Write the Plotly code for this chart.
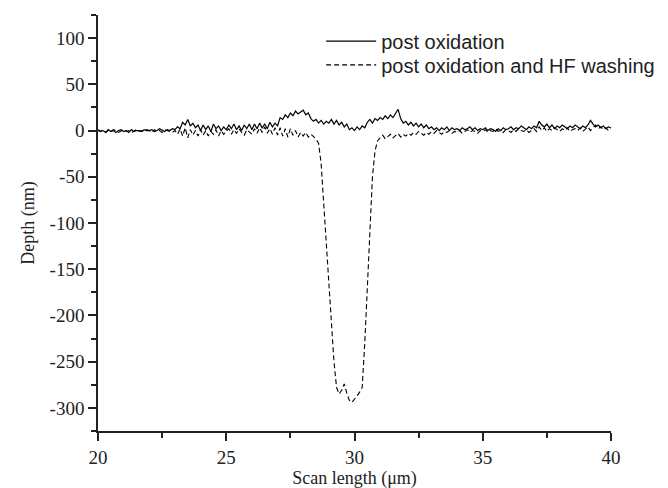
import plotly.graph_objects as go

scan_um = [
    20.0, 20.1, 20.2, 20.3, 20.4, 20.5, 20.6, 20.7, 20.8, 20.9,
    21.0, 21.1, 21.2, 21.3, 21.4, 21.5, 21.6, 21.7, 21.8, 21.9,
    22.0, 22.1, 22.2, 22.3, 22.4, 22.5, 22.6, 22.7, 22.8, 22.9,
    23.0, 23.1, 23.2, 23.3, 23.4, 23.5, 23.6, 23.7, 23.8, 23.9,
    24.0, 24.1, 24.2, 24.3, 24.4, 24.5, 24.6, 24.7, 24.8, 24.9,
    25.0, 25.1, 25.2, 25.3, 25.4, 25.5, 25.6, 25.7, 25.8, 25.9,
    26.0, 26.1, 26.2, 26.3, 26.4, 26.5, 26.6, 26.7, 26.8, 26.9,
    27.0, 27.1, 27.2, 27.3, 27.4, 27.5, 27.6, 27.7, 27.8, 27.9,
    28.0, 28.1, 28.2, 28.3, 28.4, 28.5, 28.6, 28.7, 28.8, 28.9,
    29.0, 29.1, 29.2, 29.3, 29.4, 29.5, 29.6, 29.7, 29.8, 29.9,
    30.0, 30.1, 30.2, 30.3, 30.4, 30.5, 30.6, 30.7, 30.8, 30.9,
    31.0, 31.1, 31.2, 31.3, 31.4, 31.5, 31.6, 31.7, 31.8, 31.9,
    32.0, 32.1, 32.2, 32.3, 32.4, 32.5, 32.6, 32.7, 32.8, 32.9,
    33.0, 33.1, 33.2, 33.3, 33.4, 33.5, 33.6, 33.7, 33.8, 33.9,
    34.0, 34.1, 34.2, 34.3, 34.4, 34.5, 34.6, 34.7, 34.8, 34.9,
    35.0, 35.1, 35.2, 35.3, 35.4, 35.5, 35.6, 35.7, 35.8, 35.9,
    36.0, 36.1, 36.2, 36.3, 36.4, 36.5, 36.6, 36.7, 36.8, 36.9,
    37.0, 37.1, 37.2, 37.3, 37.4, 37.5, 37.6, 37.7, 37.8, 37.9,
    38.0, 38.1, 38.2, 38.3, 38.4, 38.5, 38.6, 38.7, 38.8, 38.9,
    39.0, 39.1, 39.2, 39.3, 39.4, 39.5, 39.6, 39.7, 39.8, 39.9,
    40.0,
]

depth_post_oxidation = [
    1, -1, 0, -2, 1, -1, 0, -2, 0, 1,
    -1, 0, -2, 1, -1, 0, 0, -1, 1, 0,
    0, 1, -1, 0, 2, 0, -1, 1, 0, 2,
    1, 4, 2, 9, 6, 12, 5, 8, 3, 6,
    0, 6, 1, 5, -1, 7, 2, 5, 0, 4,
    1, 6, 2, 7, 1, 5, 0, 6, 2, 7,
    1, 7, 2, 8, 3, 7, 2, 9, 4, 8,
    5, 14, 12, 17, 14, 19, 16, 21, 18, 20,
    22, 17, 19, 13, 10, 12, 8, 11, 7, 10,
    8, 12, 7, 11, 6, 9, 4, 7, 1, 3,
    0, 4, 1, 5, 3, 9, 12, 8, 13, 11,
    14, 12, 16, 13, 17, 14, 18, 23, 13, 8,
    10, 6, 9, 5, 8, 4, 7, 3, 6, 2,
    4, 1, 3, 0, 3, 1, 4, 0, 3, 1,
    2, 0, 3, 1, 2, 4, 1, 3, 0, 2,
    1, 3, 0, 2, 1, -1, 2, 0, 3, 1,
    2, 4, 1, 3, 2, 5, 3, 1, 4, 2,
    5, 3, 10, 6, 4, 7, 3, 6, 2, 5,
    3, 6, 4, 2, 5, 3, 6, 4, 2, 5,
    3, 6, 11, 7, 4, 6, 3, 5, 2, 4,
    3,
]

depth_post_oxidation_hf = [
    0, -1, 1, -2, 0, -1, 1, 0, -2, 0,
    1, -1, 0, -2, 0, 1, -1, 0, -1, 1,
    0, -2, 1, -1, 0, -2, 1, 0, -1, -2,
    0, -4, 2, -6, 3, -8, 1, -5, 0, -6,
    1, -5, 0, -6, -1, -4, 1, -6, 0, -4,
    -1, 2, -4, 1, -3, 2, -2, -5, 1, -2,
    -4, 2, -3, 3, -2, 4, -3, 2, -4, 3,
    -5, 3, -6, 2, -7, 2, -5, 0, -7, -2,
    -6, -2, -7, -4, -7, -9, -14, -36, -79, -122,
    -164, -207, -250, -278, -285, -281, -274, -284, -292, -294,
    -291, -287, -283, -278, -230, -165, -100, -50, -22, -11,
    -8, -5, -9, -6, -4, -8, -5, -3, -7, -4,
    -6, -3, -5, -2, -4, -1, -3, -5, -2, -4,
    -1, -3, 0, -2, -4, -1, -2, 0, -3, -1,
    -2, 0, -3, -1, 1, -2, 0, -1, -3, 0,
    -1, 1, -2, 0, -1, 2, -1, 0, -2, 1,
    0, -2, 1, -1, 2, 0, -1, 1, -2, 0,
    2, -1, 4, 0, 3, -1, 2, 0, 3, 1,
    -1, 2, 0, 3, -1, 1, 2, 0, 3, -1,
    1, 4, 0, 3, 6, 2, 4, 1, 3, 0,
    2,
]

x_ticks = [20, 25, 30, 35, 40]
y_ticks = [100, 50, 0, -50, -100, -150, -200, -250, -300]

serif = "Liberation Serif"
sans = "Liberation Sans"
ink = "#222222"

fig = go.Figure()
fig.add_trace(go.Scatter(
    x=scan_um, y=depth_post_oxidation, mode="lines", name="post oxidation",
    line=dict(color="black", width=1.2), legend="legend",
))
fig.add_trace(go.Scatter(
    x=scan_um, y=depth_post_oxidation_hf, mode="lines",
    name="post oxidation and HF washing",
    line=dict(color="black", width=1.1, dash="5px,3px"), legend="legend2",
))

axis_common = dict(
    showgrid=False, zeroline=False, showline=True, linecolor=ink, linewidth=1.5,
    ticks="outside", ticklen=8, tickwidth=1.5, tickcolor=ink,
    tickfont=dict(family=serif, size=19, color=ink),
)

fig.update_xaxes(
    range=[20, 40], tickvals=x_ticks, ticktext=[str(v) for v in x_ticks],
    title=dict(text="Scan length (μm)", font=dict(family=serif, size=18, color=ink), standoff=5),
    minor=dict(ticks="outside", ticklen=5, tickwidth=1.5, tickcolor=ink, dtick=2.5, tick0=20, showgrid=False),
    **axis_common,
)
fig.update_yaxes(
    range=[-325, 125], tickvals=y_ticks, ticktext=[str(v) for v in y_ticks],
    title=dict(text="Depth (nm)", font=dict(family=serif, size=18, color=ink), standoff=10),
    minor=dict(ticks="outside", ticklen=5, tickwidth=1.5, tickcolor=ink, dtick=25, tick0=0, showgrid=False),
    **axis_common,
)

legend_common = dict(
    x=0.435, xanchor="left", yanchor="middle",
    font=dict(family=sans, size=20, color=ink),
    bgcolor="rgba(0,0,0,0)", borderwidth=0, itemwidth=50,
)

fig.update_layout(
    width=668, height=488,
    margin=dict(l=90, r=65, t=7, b=65),
    paper_bgcolor="white", plot_bgcolor="white",
    showlegend=True,
    legend=dict(y=0.937, **legend_common),
    legend2=dict(y=0.880, **legend_common),
)

fig.write_html("out.html")
